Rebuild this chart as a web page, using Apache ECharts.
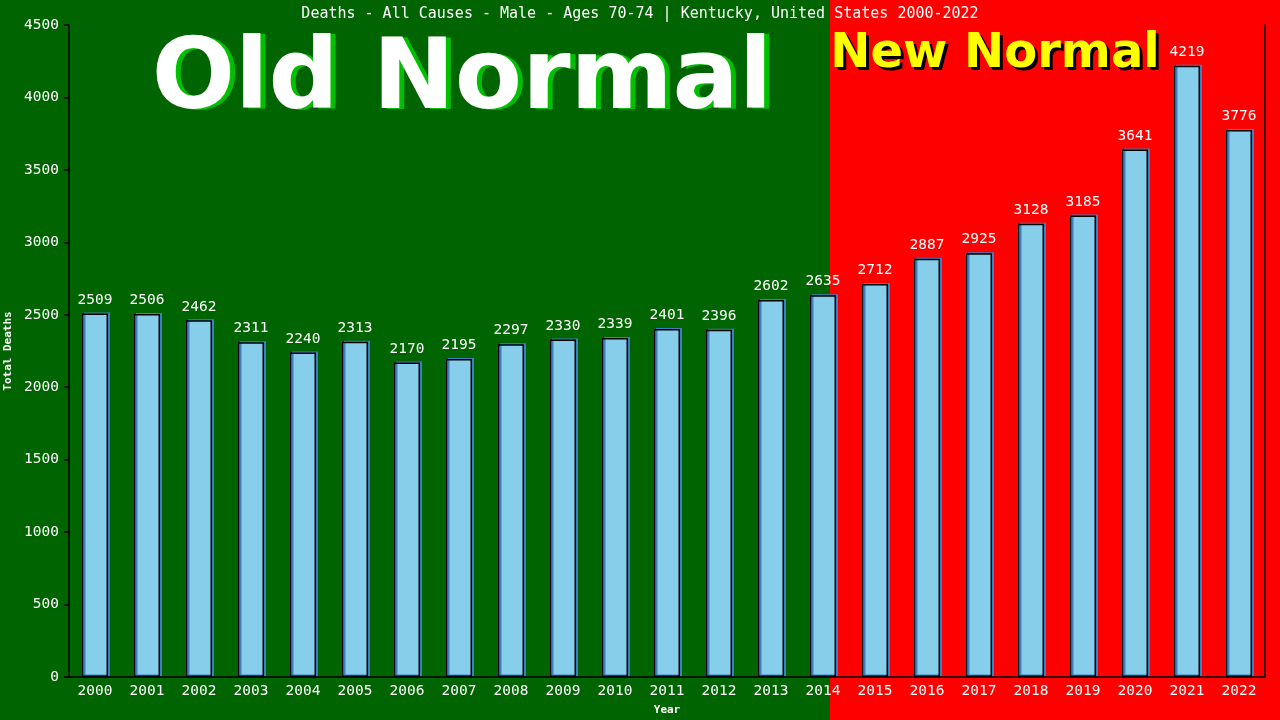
<html>
<head>
    <meta charset="utf-8">
    <title>Deaths - Kentucky Male 70-74</title>
    <script src="https://cdn.jsdelivr.net/npm/echarts@6/dist/echarts.min.js"></script>
    <style>
        html, body { margin: 0; padding: 0; }
        #main { width: 1280px; height: 720px; }
    </style>
</head>
<body>
    <div id="main"></div>
    <script>
        var years = ['2000', '2001', '2002', '2003', '2004', '2005', '2006', '2007', '2008', '2009', '2010', '2011',
                     '2012', '2013', '2014', '2015', '2016', '2017', '2018', '2019', '2020', '2021', '2022'];
        var deaths = [2509, 2506, 2462, 2311, 2240, 2313, 2170, 2195, 2297, 2330, 2339, 2401,
                      2396, 2602, 2635, 2712, 2887, 2925, 3128, 3185, 3641, 4219, 3776];

        var mono = 'DejaVu Sans Mono';
        var chart = echarts.init(document.getElementById('main'));

        // green "old normal" part covers the canvas up to this x, the rest is red
        var splitX = 830;

        var option = {
            backgroundColor: '#ff0000',
            animation: false,
            title: {
                text: 'Deaths - All Causes - Male - Ages 70-74 | Kentucky, United States 2000-2022',
                left: 'center',
                top: 2,
                textStyle: { color: '#fff', fontFamily: mono, fontSize: 15, fontWeight: 'normal' }
            },
            grid: { left: 69, right: 15, top: 25, bottom: 43, outerBoundsMode: 'none', containLabel: false },
            graphic: [
                { type: 'rect', z: -10, silent: true, shape: { x: 0, y: 0, width: splitX, height: 720 }, style: { fill: '#006400' } },
                { type: 'text', z: 1, x: 467, y: 84, style: { text: 'Old Normal', fill: '#00c000', font: 'bold 98px "DejaVu Sans"', align: 'center', verticalAlign: 'middle' } },
                { type: 'text', z: 1, x: 462, y: 83, style: { text: 'Old Normal', fill: '#ffffff', font: 'bold 98px "DejaVu Sans"', align: 'center', verticalAlign: 'middle' } },
                { type: 'text', z: 1, x: 998, y: 58, style: { text: 'New Normal', fill: '#000000', font: 'bold 48px "DejaVu Sans"', align: 'center', verticalAlign: 'middle' } },
                { type: 'text', z: 1, x: 995, y: 55, style: { text: 'New Normal', fill: '#ffff00', font: 'bold 48px "DejaVu Sans"', align: 'center', verticalAlign: 'middle' } }
            ],
            xAxis: {
                type: 'category',
                data: years,
                name: 'Year',
                nameLocation: 'middle',
                nameGap: 28,
                nameTextStyle: { color: '#fff', fontFamily: mono, fontSize: 11, fontWeight: 'bold' },
                axisLine: { lineStyle: { color: '#000', width: 1.5 } },
                axisTick: { show: false },
                axisLabel: { color: '#fff', fontFamily: mono, fontSize: 14.5, margin: 7, interval: 0 }
            },
            yAxis: [{
                type: 'value',
                min: 0,
                max: 4500,
                interval: 500,
                name: 'Total Deaths',
                nameLocation: 'middle',
                nameGap: 52,
                nameTextStyle: { color: '#fff', fontFamily: mono, fontSize: 11, fontWeight: 'bold' },
                axisLine: { show: true, lineStyle: { color: '#000', width: 1.5 } },
                axisTick: { show: true, length: 5, lineStyle: { color: '#000', width: 1.5 } },
                axisLabel: { color: '#fff', fontFamily: mono, fontSize: 14.5, margin: 10, formatter: function (v) { return String(v); } },
                splitLine: { show: false }
            }, {
                type: 'value',
                min: 0,
                max: 4500,
                position: 'right',
                axisLine: { show: true, lineStyle: { color: '#000', width: 1.5 } },
                axisTick: { show: false },
                axisLabel: { show: false },
                splitLine: { show: false }
            }],
            series: [{
                type: 'bar',
                data: deaths,
                barWidth: '50%',
                z: 3,
                itemStyle: {
                    color: '#87ceeb',
                    borderColor: '#000',
                    borderWidth: 1.5,
                    shadowColor: '#3f7fc0',
                    shadowBlur: 0,
                    shadowOffsetX: 2,
                    shadowOffsetY: -1
                },
                label: {
                    show: true,
                    position: 'top',
                    distance: 6,
                    color: '#fff',
                    fontFamily: mono,
                    fontSize: 14.5
                }
            }]
        };
        chart.setOption(option);
    </script>
</body>
</html>
